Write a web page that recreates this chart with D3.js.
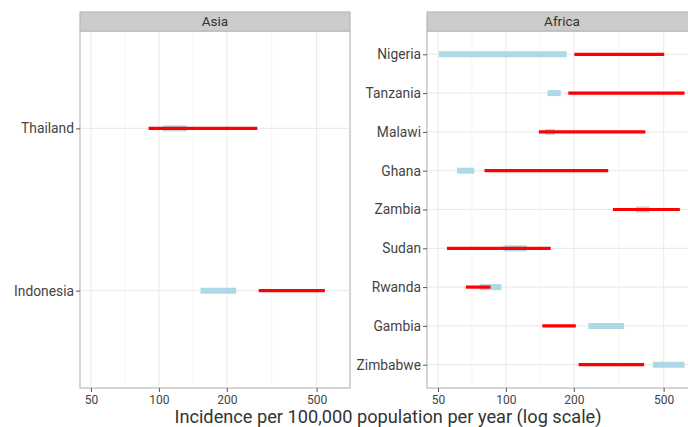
<!DOCTYPE html>
<html>
<head>
<meta charset="utf-8">
<script src="https://cdn.jsdelivr.net/npm/d3@7"></script>
<style>
  body { margin: 0; background: #fff; }
  svg { display: block; font-family: Roboto, "Liberation Sans", sans-serif; }
</style>
</head>
<body>
<div id="chart"></div>
<script>
// values (incidence per 100,000 per year)
var asiaCountries = ["Thailand", "Indonesia"];
var asiaBlue = [[104, 133], [153, 220]];
var asiaRed = [[90, 273], [277, 544]];

var africaCountries = ["Nigeria", "Tanzania", "Malawi", "Ghana", "Zambia",
                       "Sudan", "Rwanda", "Gambia", "Zimbabwe"];
var africaBlue = [[50.5, 186], [153, 175], [149, 165], [60.7, 72.4], [377, 433],
                  [97.6, 124], [76.4, 95.6], [232, 334], [448, 619]];
var africaRed = [[201, 503], [189, 619], [140, 415], [80.4, 284], [298, 590],
                 [54.8, 158], [66.5, 85.5], [145, 204], [210, 410]];

var xTicks = [50, 100, 200, 500];

var width = 688, height = 427;
var panelW = 270, panelTop = 31, panelH = 357, stripH = 19;

var svg = d3.select("#chart")
    .append("svg")
        .attr("width", width)
        .attr("height", height);

svg.append("rect")
    .attr("width", width)
    .attr("height", height)
    .attr("fill", "#fff");

var x = d3.scaleLog().domain([44.7, 703]).range([0, panelW]);

// minor breaks half way between majors on the log scale
var xMinor = [];
for (var i = 0; i < xTicks.length - 1; i++) {
    xMinor.push(Math.sqrt(xTicks[i] * xTicks[i + 1]));
}

function drawPanel(left, title, countries, blue, red) {
    var g = svg.append("g")
        .attr("transform", "translate(" + left + "," + panelTop + ")");

    var y = d3.scalePoint().domain(countries).range([0, panelH]).padding(0.6);

    // grid
    g.selectAll(".minor")
        .data(xMinor)
        .enter().append("line")
            .attr("x1", function(d){ return x(d); })
            .attr("x2", function(d){ return x(d); })
            .attr("y1", 0).attr("y2", panelH)
            .style("stroke", "#f4f4f4").style("stroke-width", 0.8);

    g.selectAll(".major")
        .data(xTicks)
        .enter().append("line")
            .attr("x1", function(d){ return x(d); })
            .attr("x2", function(d){ return x(d); })
            .attr("y1", 0).attr("y2", panelH)
            .style("stroke", "#ececec").style("stroke-width", 1.2);

    g.selectAll(".hgrid")
        .data(countries)
        .enter().append("line")
            .attr("x1", 0).attr("x2", panelW)
            .attr("y1", function(d){ return y(d); })
            .attr("y2", function(d){ return y(d); })
            .style("stroke", "#ececec").style("stroke-width", 1.2);

    // bars
    g.selectAll(".blue")
        .data(blue)
        .enter().append("line")
            .attr("x1", function(d){ return x(d[0]); })
            .attr("x2", function(d){ return x(d[1]); })
            .attr("y1", function(d, i){ return y(countries[i]); })
            .attr("y2", function(d, i){ return y(countries[i]); })
            .style("stroke", "#add8e6")
            .style("stroke-width", 6);

    g.selectAll(".red")
        .data(red)
        .enter().append("line")
            .attr("x1", function(d){ return x(d[0]); })
            .attr("x2", function(d){ return x(d[1]); })
            .attr("y1", function(d, i){ return y(countries[i]); })
            .attr("y2", function(d, i){ return y(countries[i]); })
            .style("stroke", "#ff0000")
            .style("stroke-width", 3.2);

    // border
    g.append("rect")
        .attr("x", 0).attr("y", 0)
        .attr("width", panelW).attr("height", panelH)
        .style("fill", "none")
        .style("stroke", "#c4c4c4")
        .style("stroke-width", 1.4);

    // strip
    g.append("rect")
        .attr("x", 0).attr("y", -stripH)
        .attr("width", panelW).attr("height", stripH)
        .style("fill", "#cccccc")
        .style("stroke", "#b8b8b8")
        .style("stroke-width", 1.2);

    g.append("text")
        .attr("x", panelW / 2)
        .attr("y", -5)
        .attr("text-anchor", "middle")
        .attr("font-size", "13.5px")
        .style("fill", "#333")
        .text(title);

    var yaxis = d3.axisLeft(y).tickSize(4).tickPadding(2);
    var ya = g.append("g").call(yaxis);
    ya.select(".domain").remove();
    ya.selectAll("line").style("stroke", "#555");
    ya.selectAll("text").attr("font-size", "13.8px").style("fill", "#444")
        .style("font-family", "Roboto, sans-serif");

    var xaxis = d3.axisBottom(x).tickValues(xTicks).tickFormat(d3.format("d"))
        .tickSize(4).tickPadding(3);
    var xa = g.append("g")
        .attr("transform", "translate(0," + panelH + ")")
        .call(xaxis);
    xa.select(".domain").remove();
    xa.selectAll("line").style("stroke", "#555");
    xa.selectAll("text").attr("font-size", "12px").style("fill", "#444")
        .style("font-family", "Roboto, sans-serif");
}

drawPanel(80, "Asia", asiaCountries, asiaBlue, asiaRed);
drawPanel(427, "Africa", africaCountries, africaBlue, africaRed);

svg.append("text")
    .attr("x", 388)
    .attr("y", 423)
    .attr("text-anchor", "middle")
    .attr("font-size", "18.2px")
    .style("fill", "#333")
    .text("Incidence per 100,000 population per year (log scale)");
</script>
</body>
</html>
